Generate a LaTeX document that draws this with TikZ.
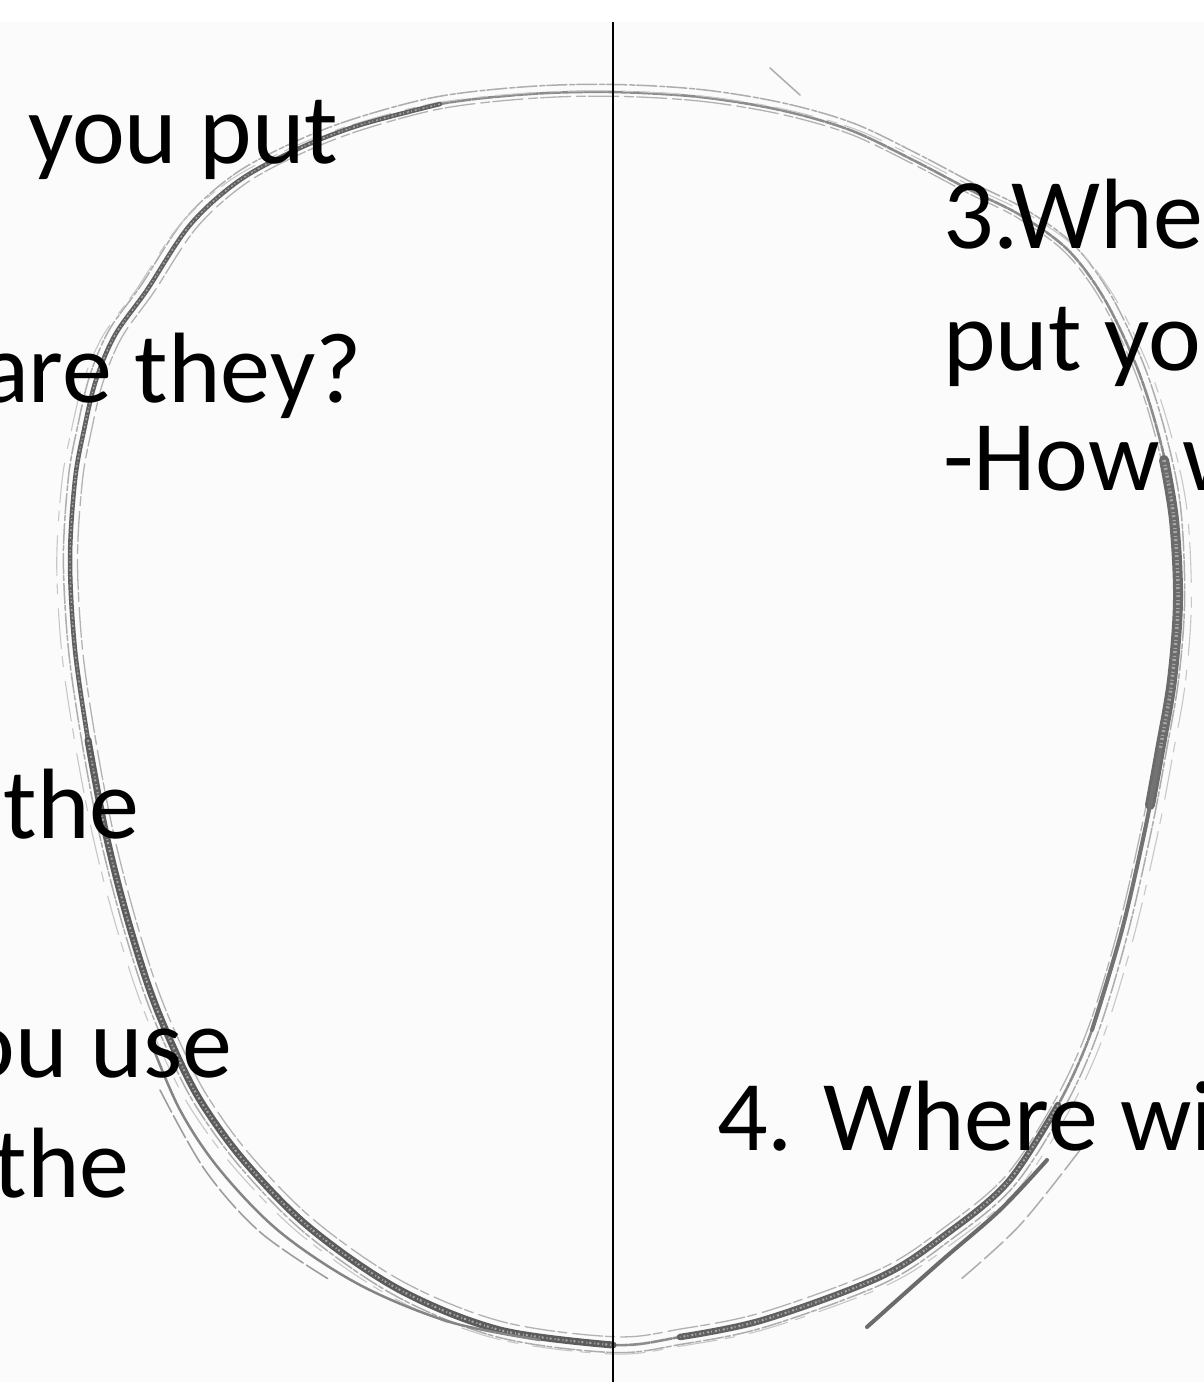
\documentclass[tikz,border=0pt]{standalone}
\usepackage{fontspec}
\setmainfont{Carlito}
\begin{document}
\begin{tikzpicture}[x=1pt,y=-1pt,
  txt/.style={anchor=base west, inner sep=0pt, outer sep=0pt, font=\fontsize{100}{120}\selectfont, text=black},
  pencil/.style={line width=#1, line cap=round, line join=round},
  pencil/.default=2,
  speckle/.style={line width=#1, dash pattern=on 2pt off 3pt on 1pt off 2pt, draw=black!35},
  speckle/.default=1.5,
  divider/.style={line width=2pt, draw=black}
]
\useasboundingbox (0,0) rectangle (1204,1382);
\begin{scope}
\clip (0,0) rectangle (1204,1382);
\fill[white] (0,0) rectangle (1204,1382);
\fill[black!1.5] (0,22) rectangle (1204,1382);

% main sketched outline
\def\headpath{(613,92) (700,97) (780,110) (850,130) (913,160) (970,190) (1020,215) (1068,250) (1105,300) (1138,370) (1160,440) (1174,510) (1178,600) (1172,680) (1160,750) (1146,825) (1122,930) (1092,1030) (1058,1105) (1008,1182) (945,1235) (880,1277) (763,1320) (680,1337) (613,1345) (500,1330) (400,1290) (310,1228) (245,1162) (200,1100) (170,1040) (148,985) (125,910) (105,830) (88,740) (75,650) (70,560) (75,480) (84,430) (96,380) (115,335) (147,290) (190,225) (240,180) (300,148) (360,125) (440,104) (530,94)}
\draw[pencil=2.6, black!45, dash pattern=on 14pt off 1.5pt on 6pt off 1pt] plot[smooth cycle, tension=0.55] coordinates {\headpath};
\begin{scope}[shift={(622,720)}, scale=1.012, shift={(-622,-720)}]
\draw[pencil=1.5, black!32, dash pattern=on 20pt off 3pt on 5pt off 2pt] plot[smooth cycle, tension=0.55] coordinates {\headpath};
\end{scope}
\begin{scope}[shift={(622,720)}, scale=0.99, shift={(-620,-722)}]
\draw[pencil=1.3, black!30, dash pattern=on 30pt off 6pt on 9pt off 3pt] plot[smooth cycle, tension=0.55] coordinates {\headpath};
\end{scope}
\begin{scope}[shift={(622,720)}, xscale=1.024, yscale=1.008, shift={(-622,-716)}]
\draw[pencil=1.1, black!22, dash pattern=on 40pt off 15pt on 10pt off 8pt] plot[smooth cycle, tension=0.55] coordinates {\headpath};
\end{scope}

% darker pencil parts
\draw[pencil=4.5, black!62] plot[smooth, tension=0.55] coordinates {(440,104) (360,125) (300,148) (240,180) (190,225) (147,290) (115,335) (96,380) (84,430) (75,480) (70,560) (75,650) (88,740)};
\draw[speckle=1.4] plot[smooth, tension=0.55] coordinates {(440,104) (360,125) (300,148) (240,180) (190,225) (147,290) (115,335) (96,380) (84,430) (75,480) (70,560) (75,650) (88,740)};
\draw[pencil=7, black!64] plot[smooth, tension=0.55] coordinates {(88,740) (105,830) (125,910) (148,985) (170,1040) (200,1100) (245,1162) (310,1228) (400,1290) (500,1330) (613,1345)};
\draw[speckle=2] plot[smooth, tension=0.55] coordinates {(88,740) (105,830) (125,910) (148,985) (170,1040) (200,1100) (245,1162) (310,1228) (400,1290) (500,1330) (613,1345)};
\draw[pencil=2.5, black!48] plot[smooth, tension=0.55] coordinates {(150,1040) (180,1110) (220,1170) (280,1232) (360,1285) (450,1322) (540,1340)};
\draw[pencil=1.6, black!38, dash pattern=on 25pt off 4pt] plot[smooth, tension=0.55] coordinates {(160,1090) (205,1170) (260,1232) (330,1280)};
\draw[pencil=10, black!58] plot[smooth, tension=0.55] coordinates {(1164,460) (1174,520) (1178,600) (1172,680) (1160,750) (1150,805)};
\draw[speckle=3.5] plot[smooth, tension=0.55] coordinates {(1164,460) (1174,520) (1178,600) (1172,680) (1160,750) (1150,805)};
\draw[pencil=4, black!55] plot[smooth, tension=0.55] coordinates {(1160,750) (1146,825) (1122,930) (1092,1030)};
\draw[pencil=6.5, black!62] plot[smooth, tension=0.55] coordinates {(1058,1105) (1008,1182) (945,1235) (880,1277) (763,1320) (680,1337)};
\draw[speckle=2] plot[smooth, tension=0.55] coordinates {(1058,1105) (1008,1182) (945,1235) (880,1277) (763,1320) (680,1337)};
\draw[pencil=4, black!58] plot[smooth, tension=0.55] coordinates {(1047,1160) (1000,1210) (940,1262) (867,1327)};
\draw[pencil=1.5, black!32, dash pattern=on 25pt off 5pt] plot[smooth, tension=0.55] coordinates {(1080,1150) (1020,1225) (960,1280)};
\draw[pencil=1.5, black!32] (770,68) -- (800,95);

% divider
\coordinate (vtop) at (613,22);
\coordinate (vbot) at (613,1382);
\draw[divider] (vtop) -- (vbot);

% texts
\node[txt] (t1) at (28,163) {you put};
\node[txt] (t2) at (-19,402) {are they?};
\node[txt] (t3) at (4,838) {the};
\node[txt] (t4) at (-37,1077) {ou use};
\node[txt] (t5) at (-6,1197) {the};
\node[txt] (r1) at (943,248) {3.Whe};
\node[txt] (r2) at (943,370) {put yo};
\node[txt] (r3) at (943,490) {-How w};
\node[txt] (r4) at (717,1150) {4. Where wi};
\end{scope}
\end{tikzpicture}
\end{document}
